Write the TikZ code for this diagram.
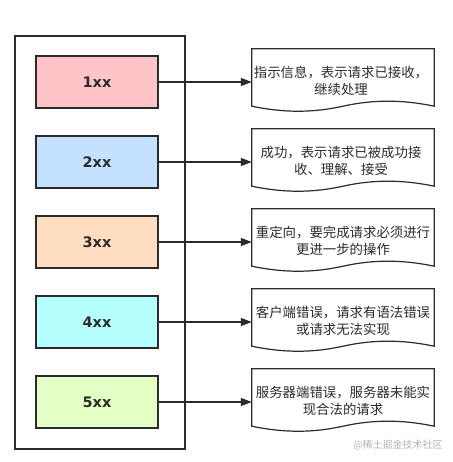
\documentclass[tikz,border=0pt]{standalone}
\usepackage{fontspec}
\newfontfamily\cjk{Noto Sans CJK SC}
\newfontfamily\boxfont{DejaVu Sans}
\usetikzlibrary{arrows.meta,calc}
\definecolor{c1}{HTML}{FFC4C8}
\definecolor{c2}{HTML}{C4E2FF}
\definecolor{c3}{HTML}{FFDDC0}
\definecolor{c4}{HTML}{B6FFFF}
\definecolor{c5}{HTML}{E4FFC4}
\definecolor{ink}{HTML}{2B2B2B}
\tikzset{
  outerbox/.style={draw=ink, line width=1.2pt, minimum width=170pt, minimum height=413pt, inner sep=0pt},
  codebox/.style={draw=ink, line width=1.2pt, minimum width=122pt, minimum height=52pt, inner sep=0pt,
    font=\boxfont\bfseries\fontsize{14.5}{16}\selectfont, text=ink},
  docframe/.style={minimum width=182pt, minimum height=57pt, inner sep=0pt},
  docline/.style={draw=ink, line width=1.2pt, fill=white},
  doctext/.style={align=center, inner sep=0pt, font=\cjk\fontsize{13.4}{17}\selectfont, text=ink},
  conn/.style={draw=ink, line width=1.2pt, -{Triangle[length=11pt,width=8pt]}},
  wmark/.style={font=\cjk\fontsize{10}{12}\selectfont, text=black!30, inner sep=0pt}
}
\begin{document}
\begin{tikzpicture}[x=1pt,y=-1pt]
\useasboundingbox (0,0) rectangle (452,462);
\node[outerbox] (outer) at (100,242.5) {};
\node[codebox, fill=c1] (b1) at (97,82) {1xx};
\node[codebox, fill=c2] (b2) at (97,162) {2xx};
\node[codebox, fill=c3] (b3) at (97,242) {3xx};
\node[codebox, fill=c4] (b4) at (97,322) {4xx};
\node[codebox, fill=c5] (b5) at (97,402) {5xx};
\foreach \k in {1,...,5}{
  \node[docframe] (d\k) at (343,{77.5+80*(\k-1)}) {};
  \draw[docline] (d\k.north west) -- (d\k.north east) -- (d\k.south east)
    .. controls ($(d\k.south east)+(-32,-6.7)$) and ($(d\k.south)+(30,-6.7)$) .. (d\k.south)
    .. controls ($(d\k.south)+(-30,6.7)$) and ($(d\k.south west)+(32,6.7)$) .. (d\k.south west) -- cycle;
  \draw[conn] (b\k.east) -- (d\k.west |- b\k.east);
}
\node[doctext] (t1) at ($(d1.center)+(-2,3)$) {指示信息，表示请求已接收，\\继续处理};
\node[doctext] (t2) at ($(d2.center)+(-2,3)$) {成功，表示请求已被成功接\\收、理解、接受};
\node[doctext] (t3) at ($(d3.center)+(0,3)$) {重定向，要完成请求必须进行\\更进一步的操作};
\node[doctext] (t4) at ($(d4.center)+(0,3)$) {客户端错误，请求有语法错误\\或请求无法实现};
\node[doctext] (t5) at ($(d5.center)+(0,3)$) {服务器端错误，服务器未能实\\现合法的请求};
\node[wmark] (wm) at (398,445) {@稀土掘金技术社区};
\end{tikzpicture}
\end{document}
